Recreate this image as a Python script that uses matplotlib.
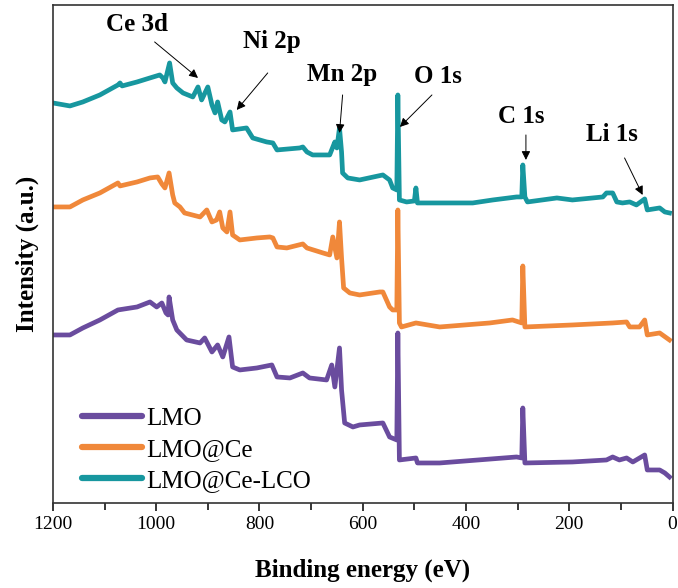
import matplotlib
matplotlib.use("Agg")
import matplotlib.pyplot as plt
from matplotlib.ticker import MultipleLocator

plt.rcParams['font.family'] = ['Liberation Serif', 'DejaVu Serif']

# Binding energy (eV) / intensity (a.u.)
lco_e = [1200, 1167, 1142, 1109, 1074, 1070, 1066, 1037, 1012, 993, 987, 983, 974, 968, 960,
         948, 929, 919, 912, 900, 892, 886, 881, 873, 867, 857, 852, 825, 813, 786, 774,
         766, 722, 716, 708, 697, 664, 654, 650, 645, 641, 639, 629, 606, 561, 548, 542,
         534, 532, 529, 515, 500, 497, 494, 387, 348, 302, 292, 290, 286, 281, 224, 194,
         135, 128, 116, 108, 97, 83, 70, 54, 49, 25, 15, 6]
lco_i = [400, 397, 401, 408, 418, 420, 417, 421, 425, 428, 425, 421, 440, 420, 415,
         410, 406, 416, 403, 416, 398, 390, 401, 383, 381, 391, 373, 375, 365, 361, 360,
         353, 355, 356, 351, 348, 348, 361, 355, 375, 351, 330, 325, 323, 328, 323, 315,
         313, 408, 303, 301, 302, 315, 300, 300, 303, 306, 306, 338, 306, 301, 305, 303,
         306, 310, 310, 301, 300, 301, 298, 304, 293, 295, 291, 290]

ce_e = [1200, 1167, 1142, 1109, 1074, 1070, 1037, 1012, 997, 989, 983, 975, 968, 964, 954,
        945, 915, 902, 892, 883, 877, 871, 863, 857, 852, 838, 805, 780, 774, 766, 747,
        716, 708, 677, 664, 658, 650, 645, 641, 637, 625, 606, 567, 561, 548, 542, 534,
        532, 529, 525, 497, 451, 354, 310, 292, 290, 286, 194, 116, 89, 83, 64, 54, 49,
        25, 6]
ce_i = [296, 296, 303, 310, 320, 317, 321, 325, 326, 319, 315, 330, 308, 300, 296,
        290, 286, 293, 281, 283, 291, 275, 271, 291, 268, 263, 265, 266, 265, 256, 255,
        259, 255, 250, 248, 266, 245, 281, 245, 215, 210, 208, 211, 211, 196, 193, 193,
        293, 180, 176, 180, 176, 180, 183, 180, 237, 176, 178, 180, 181, 176, 176, 183, 168,
        170, 163]

lmo_e = [1200, 1167, 1142, 1109, 1074, 1037, 1012, 999, 989, 981, 977, 975, 968, 960, 941,
         915, 906, 892, 881, 871, 859, 852, 838, 805, 776, 766, 741, 716, 703, 670, 660,
         654, 645, 641, 635, 619, 606, 561, 548, 534, 532, 529, 497, 494, 451, 302, 292,
         290, 286, 194, 128, 116, 103, 89, 77, 54, 49, 25, 15, 6]
lmo_i = [168, 168, 175, 183, 193, 196, 201, 196, 200, 190, 188, 206, 183, 173, 163,
         160, 165, 151, 158, 146, 166, 136, 133, 135, 138, 126, 125, 130, 125, 123, 138,
         116, 155, 113, 80, 76, 78, 80, 66, 63, 170, 43, 45, 40, 40, 46, 45,
         95, 40, 41, 43, 46, 43, 45, 41, 48, 33, 33, 30, 26]

labels = ["LMO", "LMO@Ce", "LMO@Ce-LCO"]
colors = ["#6A4C9E", "#F0883A", "#17979F"]

# peak annotations: label, text position, arrow tail, arrow head (E, I)
ann_labels = ["Ce 3d", "Ni 2p", "Mn 2p", "O 1s", "C 1s", "Li 1s"]
ann_text = [(1037, 478), (776, 461), (639, 428), (455, 426), (294, 386), (118, 368)]
ann_tail = [(1003, 461), (784, 430), (639, 408), (466, 408), (284, 368), (93, 345)]
ann_head = [(919, 425), (844, 393), (645, 370), (528, 376), (284, 343), (58, 308)]

fig = plt.figure(figsize=(6.78, 5.88), dpi=100)
ax = fig.add_axes([0.078, 0.1446, 0.914, 0.847])

for e, i, lab, c in zip([lmo_e, ce_e, lco_e], [lmo_i, ce_i, lco_i], labels, colors):
    ax.plot(e, i, color=c, lw=3.4, label=lab, solid_joinstyle='round')

for lab, t, tail, head in zip(ann_labels, ann_text, ann_tail, ann_head):
    ax.text(t[0], t[1], lab, ha='center', va='center', fontsize=18, fontweight='bold')
    ax.annotate('', xy=head, xytext=tail,
                arrowprops=dict(arrowstyle='-|>', color='black', lw=0.7,
                                mutation_scale=13, shrinkA=0, shrinkB=0))

ax.set_xlim(1200, 0)
ax.set_ylim(0, 498)
ax.xaxis.set_major_locator(MultipleLocator(200))
ax.xaxis.set_minor_locator(MultipleLocator(100))
ax.tick_params(axis='x', which='major', direction='out', length=6, width=1.1, labelsize=14)
ax.tick_params(axis='x', which='minor', direction='out', length=5, width=1.1)
ax.set_yticks([])
for s in ax.spines.values():
    s.set_linewidth(1.2)
    s.set_color('#333333')

ax.set_xlabel('Binding energy (eV)', fontsize=18, fontweight='bold', labelpad=18)
ax.set_ylabel('Intensity (a.u.)', fontsize=18, fontweight='bold', labelpad=10)

leg = ax.legend(loc='lower left', bbox_to_anchor=(0.047, 0.023), frameon=False,
                fontsize=18, handlelength=2.4, handletextpad=0.15, labelspacing=0.33,
                borderpad=0, borderaxespad=0)
for h in leg.get_lines():
    h.set_linewidth(4.5)
    h.set_solid_capstyle('round')

fig.savefig('out.png', dpi=100)
